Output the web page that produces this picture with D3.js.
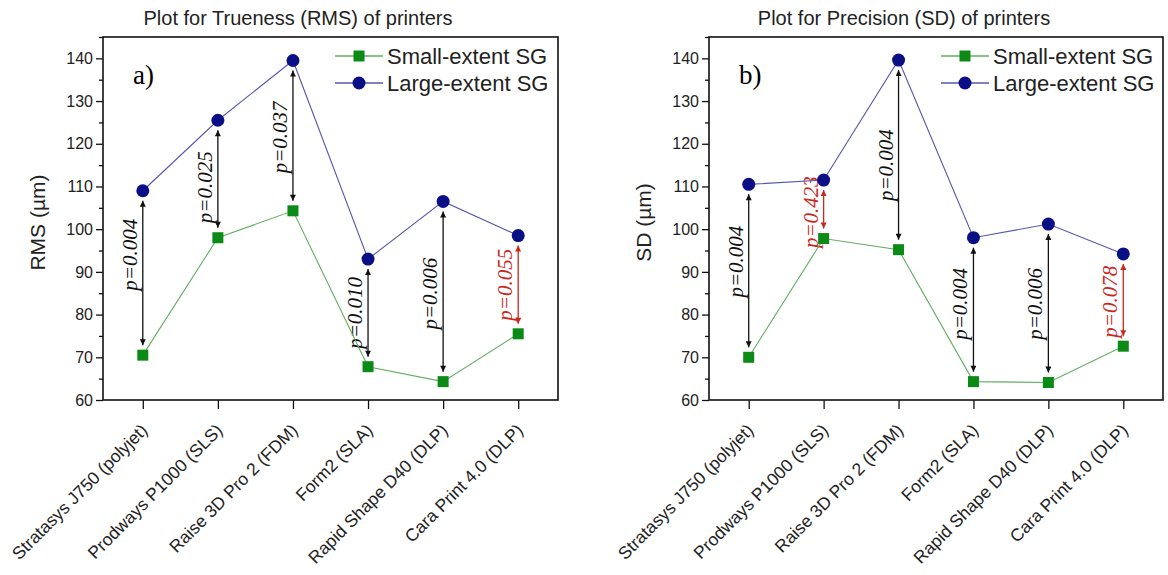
<!DOCTYPE html>
<html><head><meta charset="utf-8">
<script src="https://cdn.jsdelivr.net/npm/d3@7"></script>
<style>body{margin:0;background:#fff}svg{display:block}</style>
</head><body><svg id="c" width="1168" height="575"></svg>
<script>
// ---------- data ----------
const categories = ["Stratasys J750 (polyjet)", "Prodways P1000 (SLS)", "Raise 3D Pro 2 (FDM)", "Form2 (SLA)", "Rapid Shape D40 (DLP)", "Cara Print 4.0 (DLP)"];
const seriesNames = ["Small-extent SG", "Large-extent SG"];
const rmsSmall = [70.5, 98.0, 104.3, 67.8, 64.3, 75.5];
const rmsLarge = [109.0, 125.5, 139.5, 93.0, 106.5, 98.5];
const rmsP = ["p=0.004", "p=0.025", "p=0.037", "p=0.010", "p=0.006", "p=0.055"];
const rmsSignificant = [true, true, true, true, true, false];
const rmsPLabelAt = [94.0, 109.8, 121.5, 80.4, 84.9, 87.0];
const sdSmall = [70.0, 97.8, 95.2, 64.3, 64.1, 72.6];
const sdLarge = [110.5, 111.5, 139.6, 98.0, 101.2, 94.2];
const sdP = ["p=0.004", "p=0.423", "p=0.004", "p=0.004", "p=0.006", "p=0.078"];
const sdSignificant = [true, false, true, true, true, false];
const sdPLabelAt = [92.4, 104.0, 115.0, 82.5, 82.5, 83.0];
const yTicks = [60, 70, 80, 90, 100, 110, 120, 130, 140];
const yMinorTicks = [65, 75, 85, 95, 105, 115, 125, 135, 145];
const yDomain = [60, 145];

// ---------- style ----------
const SANS = "Arial, 'Liberation Sans', sans-serif";
const SERIF = "'Times New Roman', 'Liberation Serif', serif";
const NAVY = "#0a0f86", BLUE_LINE = "#5656b0";
const GREEN = "#0c8a16", GREEN_LINE = "#62ad62";
const RED = "#c8281e";

const svg = d3.select("#c");
const defs = svg.append("defs");
function arrowMarker(id, color) {
  defs.append("marker").attr("id", id)
    .attr("viewBox", "0 0 10 10").attr("refX", 10).attr("refY", 5)
    .attr("markerUnits", "userSpaceOnUse")
    .attr("markerWidth", 7).attr("markerHeight", 6)
    .attr("orient", "auto-start-reverse")
    .append("path").attr("d", "M0,0 L10,5 L0,10 Z").attr("fill", color);
}
arrowMarker("arrK", "#111");
arrowMarker("arrR", RED);

function panel(cfg) {
  const {left, right, top, bottom} = cfg;
  const g = svg.append("g");
  const x = d3.scalePoint().domain(categories).range([left, right]).padding(0.53);
  const y = d3.scaleLinear().domain(yDomain).range([bottom, top]);

  // title
  g.append("text").attr("x", left + 195).attr("y", 25).attr("text-anchor", "middle")
    .attr("font-family", SANS).attr("font-size", 20).attr("fill", "#222").text(cfg.title);

  // y axis major / minor
  const ya = g.append("g").attr("transform", `translate(${left},0)`)
    .call(d3.axisLeft(y).tickValues(yTicks).tickSize(7).tickPadding(3));
  ya.select(".domain").remove();
  ya.selectAll("text").attr("font-family", SANS).attr("font-size", 16).attr("fill", "#222");
  ya.selectAll("line").attr("stroke", "#111").attr("stroke-width", 1.3);
  const ym = g.append("g").attr("transform", `translate(${left},0)`)
    .call(d3.axisLeft(y).tickValues(yMinorTicks).tickSize(4).tickFormat(""));
  ym.select(".domain").remove();
  ym.selectAll("line").attr("stroke", "#111").attr("stroke-width", 1.3);

  // x axis
  const xa = g.append("g").attr("transform", `translate(0,${bottom})`)
    .call(d3.axisBottom(x).tickSize(9).tickPadding(4));
  xa.select(".domain").remove();
  xa.selectAll("line").attr("stroke", "#111").attr("stroke-width", 1.3);
  xa.selectAll("text").attr("font-family", SANS).attr("font-size", 17.5).attr("fill", "#222")
    .attr("text-anchor", "end").attr("dy", "0.35em").attr("x", 0).attr("y", 0)
    .attr("transform", "translate(1,27) rotate(-45)");

  // y title
  g.append("text").attr("transform", `translate(${left - 66},${(top + bottom) / 2 + 4}) rotate(-90)`)
    .attr("text-anchor", "middle").attr("dominant-baseline", "central")
    .attr("font-family", SANS).attr("font-size", 21).attr("fill", "#222").text(cfg.yTitle);

  // frame
  g.append("rect").attr("x", left).attr("y", top).attr("width", right - left).attr("height", bottom - top)
    .attr("fill", "none").attr("stroke", "#111").attr("stroke-width", 1.6);

  // panel letter
  g.append("text").attr("x", left + 30).attr("y", 84).attr("font-family", SERIF)
    .attr("font-size", 27).attr("fill", "#000").text(cfg.letter);

  // arrows and p labels
  const gap = 10;
  categories.forEach((c, i) => {
    const col = cfg.sig[i] ? "#111" : RED;
    g.append("line").attr("x1", x(c)).attr("x2", x(c))
      .attr("y1", y(cfg.large[i]) + gap).attr("y2", y(cfg.small[i]) - gap)
      .attr("stroke", col).attr("stroke-width", 1.3)
      .attr("marker-start", `url(#${cfg.sig[i] ? "arrK" : "arrR"})`)
      .attr("marker-end", `url(#${cfg.sig[i] ? "arrK" : "arrR"})`);
    g.append("text").attr("transform", `translate(${x(c) - 13},${y(cfg.pAt[i])}) rotate(-90)`)
      .attr("text-anchor", "middle").attr("dominant-baseline", "central")
      .attr("font-family", SERIF).attr("font-style", "italic").attr("font-size", 21)
      .attr("fill", cfg.sig[i] ? "#111" : RED).text(cfg.p[i]);
  });

  // lines
  const line = d3.line().x((d, i) => x(categories[i])).y(d => y(d));
  g.append("path").datum(cfg.small).attr("d", line).attr("fill", "none")
    .attr("stroke", GREEN_LINE).attr("stroke-width", 1.1);
  g.append("path").datum(cfg.large).attr("d", line).attr("fill", "none")
    .attr("stroke", BLUE_LINE).attr("stroke-width", 1.1);
  // markers
  g.selectAll(null).data(cfg.small).enter().append("rect")
    .attr("x", (d, i) => x(categories[i]) - 5.5).attr("y", d => y(d) - 5.5)
    .attr("width", 11).attr("height", 11).attr("fill", GREEN);
  g.selectAll(null).data(cfg.large).enter().append("circle")
    .attr("cx", (d, i) => x(categories[i])).attr("cy", d => y(d)).attr("r", 6.5).attr("fill", NAVY);

  // legend
  const lx = left + 232;
  const items = [
    {name: seriesNames[0], col: GREEN_LINE, sym: "sq", y: 56},
    {name: seriesNames[1], col: BLUE_LINE, sym: "ci", y: 83}
  ];
  items.forEach(it => {
    g.append("line").attr("x1", lx).attr("x2", lx + 48).attr("y1", it.y).attr("y2", it.y)
      .attr("stroke", it.col).attr("stroke-width", 1.3);
    if (it.sym === "sq") g.append("rect").attr("x", lx + 24 - 5.5).attr("y", it.y - 5.5)
      .attr("width", 11).attr("height", 11).attr("fill", GREEN);
    else g.append("circle").attr("cx", lx + 24).attr("cy", it.y).attr("r", 6.5).attr("fill", NAVY);
    g.append("text").attr("x", lx + 52).attr("y", it.y).attr("dominant-baseline", "central")
      .attr("font-family", SANS).attr("font-size", 22).attr("fill", "#222").text(it.name);
  });
}

panel({left: 103, right: 558, top: 37, bottom: 400, title: "Plot for Trueness (RMS) of printers",
  yTitle: "RMS (\u00b5m)", letter: "a)", small: rmsSmall, large: rmsLarge, p: rmsP, sig: rmsSignificant, pAt: rmsPLabelAt});
panel({left: 709, right: 1163, top: 37, bottom: 400, title: "Plot for Precision (SD) of printers",
  yTitle: "SD (\u00b5m)", letter: "b)", small: sdSmall, large: sdLarge, p: sdP, sig: sdSignificant, pAt: sdPLabelAt});
</script>
</body></html>
